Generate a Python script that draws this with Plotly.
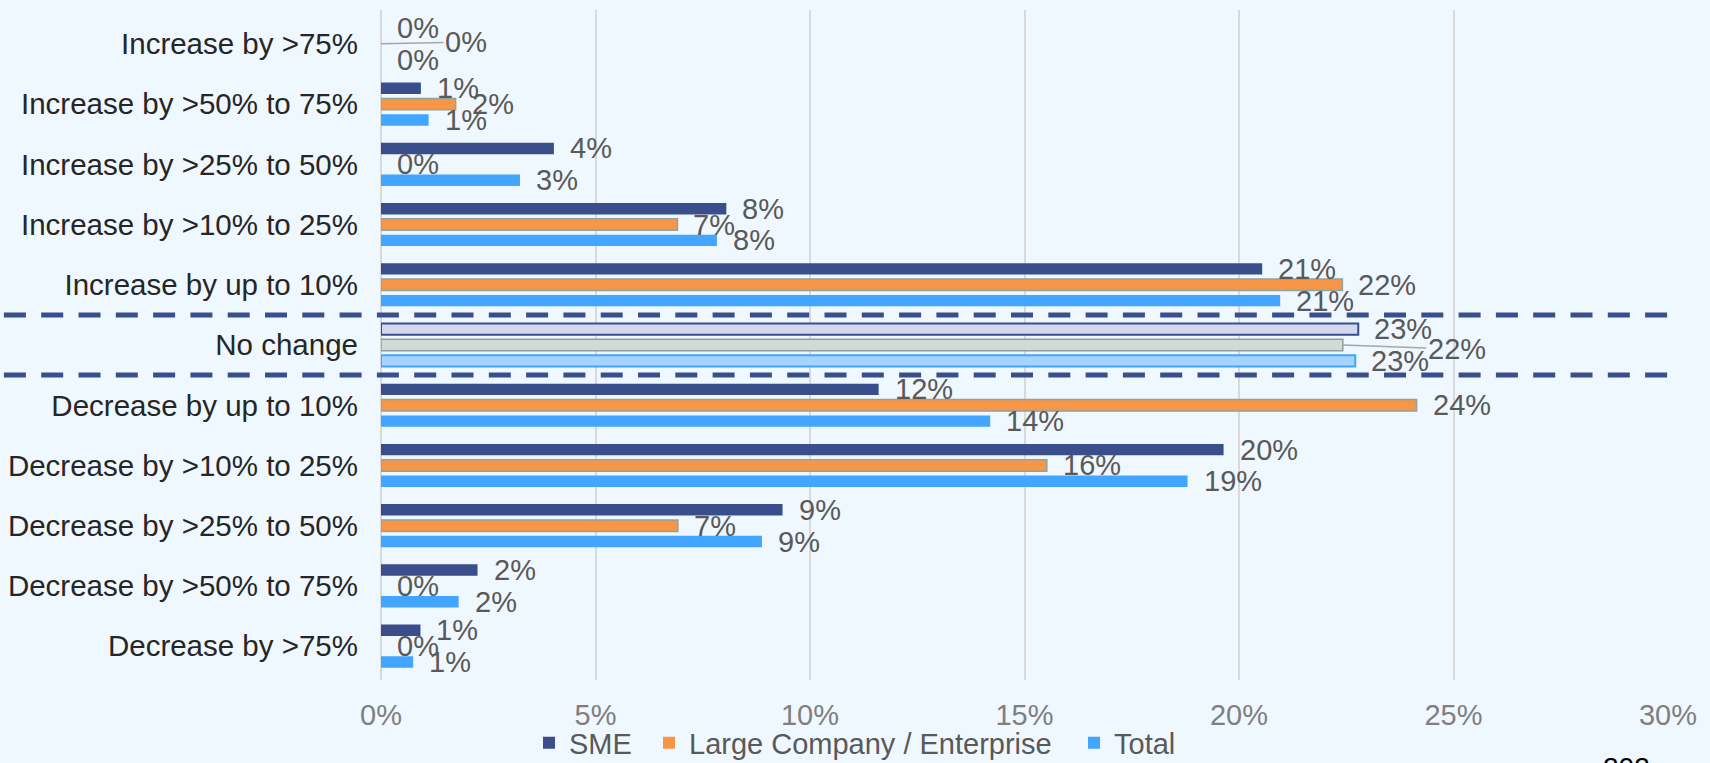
import plotly.graph_objects as go

categories = [
    "Increase by >75%", "Increase by >50% to 75%", "Increase by >25% to 50%",
    "Increase by >10% to 25%", "Increase by up to 10%", "No change",
    "Decrease by up to 10%", "Decrease by >10% to 25%", "Decrease by >25% to 50%",
    "Decrease by >50% to 75%", "Decrease by >75%",
]
sme = [0, 0.93, 4.03, 8.05, 20.54, 22.78, 11.6, 19.64, 9.36, 2.25, 0.92]
large = [0, 1.74, 0, 6.91, 22.41, 22.42, 24.14, 15.52, 6.92, 0, 0]
total = [0, 1.11, 3.24, 7.83, 20.96, 22.71, 14.2, 18.8, 8.88, 1.81, 0.75]
series_names = ["SME", "Large Company / Enterprise", "Total"]
x_ticks = [0, 5, 10, 15, 20, 25, 30]
x_tick_labels = ["0%", "5%", "10%", "15%", "20%", "25%", "30%"]
highlight = "No change"

# styles
FONT = "Liberation Sans, Arial, sans-serif"
BG = "#EFF7FF"
styles = [
    dict(fill="#3A4E8C", line="#3A4E8C", lw=0, hfill="#D3D8EC", hline="#3A4E8C", hlw=2),
    dict(fill="#F79646", line="#8FA3A0", lw=1.5, hfill="#D1DAD7", hline="#8E9E9B", hlw=1.5),
    dict(fill="#42A5FF", line="#42A5FF", lw=0, hfill="#A7D3FF", hline="#42A5FF", hlw=2),
]
legend_widths = [75, 380, 70]
BARGAP = 0.21
BARGROUPGAP = 0.28
# labels drawn with a leader line: (category, series index) -> pixel offset of text centre
leader = {("Increase by >75%", 1): (85, -2), ("No change", 1): (114, 4)}

fig = go.Figure()
values = [sme, large, total]
for j, (name, vals, st) in enumerate(zip(series_names, values, styles)):
    hl = [c == highlight for c in categories]
    lw = [st["hlw"] if h else st["lw"] for h in hl]
    lw = [w if v > 0 else 0 for w, v in zip(lw, vals)]
    fig.add_trace(go.Bar(
        y=categories, x=vals, orientation="h", name=name,
        legendwidth=legend_widths[j],
        marker=dict(
            color=[st["hfill"] if h else st["fill"] for h in hl],
            line=dict(color=[st["hline"] if h else st["line"] for h in hl], width=lw),
        ),
        hoverinfo="skip",
    ))

annotations = []
slot = (1 - BARGAP) / 3
for j, vals in enumerate(values):
    for i, (c, v) in enumerate(zip(categories, vals)):
        ypos = i + (j - 1) * slot
        txt = f"{round(v)}%"
        if (c, j) in leader:
            ax, ay = leader[(c, j)]
            annotations.append(dict(
                x=v, y=ypos, xref="x", yref="y", text=txt, showarrow=True,
                arrowhead=0, arrowwidth=1.5, arrowcolor="#A6A6A6", ax=ax, ay=ay,
                font=dict(size=29, color="#595959", family=FONT)))
        else:
            annotations.append(dict(
                x=v, y=ypos, xref="x", yref="y", text=txt, showarrow=False,
                xanchor="left", yanchor="middle", xshift=14,
                font=dict(size=29, color="#595959", family=FONT)))

annotations.append(dict(
    x=0.9678, y=-0.13, xref="paper", yref="paper", text="202", showarrow=False,
    xanchor="center", yanchor="middle", font=dict(size=28, color="#000000", family=FONT)))

# dashed separator lines around the highlighted category
hi = categories.index(highlight)
shapes = []
for yy in (hi - 0.5, hi + 0.5):
    shapes.append(dict(type="line", xref="paper", yref="y", x0=-0.293, x1=1.0,
                       y0=yy, y1=yy, line=dict(color="#3A4E8C", width=5, dash="22px,15.3px")))

fig.update_layout(
    width=1710, height=763,
    margin=dict(l=381, r=42, t=10, b=83, autoexpand=False),
    paper_bgcolor=BG, plot_bgcolor=BG,
    barmode="group", bargap=BARGAP, bargroupgap=BARGROUPGAP,
    font=dict(family=FONT, size=29, color="#595959"),
    xaxis=dict(range=[0, 30], tickvals=x_ticks, ticktext=x_tick_labels, showgrid=True,
               gridcolor="#D9D9D9", gridwidth=1.5, zeroline=True, zerolinecolor="#D9D9D9",
               zerolinewidth=1.5, showline=False,
               tickfont=dict(size=29, color="#7F7F7F", family=FONT),
               ticklabelstandoff=15, automargin=False, fixedrange=True),
    yaxis=dict(type="category", categoryorder="array", categoryarray=categories,
               autorange="reversed", showgrid=False, zeroline=False, showline=False,
               tickfont=dict(size=29.5, color="#262626", family=FONT),
               ticklabelstandoff=22, automargin=False, fixedrange=True),
    legend=dict(orientation="h", x=0.115, xanchor="left", y=-0.094, yanchor="middle",
                font=dict(size=29, color="#595959", family=FONT),
                bgcolor="rgba(0,0,0,0)", traceorder="normal", itemwidth=30),
    annotations=annotations,
    shapes=shapes,
    showlegend=True,
)

fig.write_html("out.html", config={"displayModeBar": False},
               post_script="document.body.style.margin='0';document.body.style.background='%s';" % BG)
